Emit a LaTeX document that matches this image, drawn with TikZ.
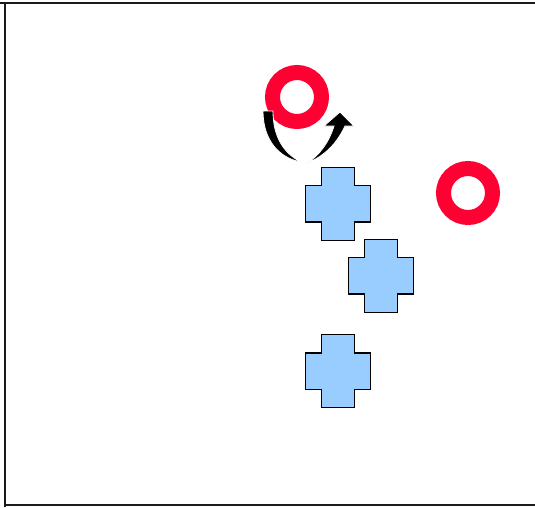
\documentclass[tikz,border=0pt]{standalone}
\usetikzlibrary{arrows.meta}
\definecolor{ringred}{HTML}{FF0033}
\definecolor{plusblue}{HTML}{99CCFF}
\definecolor{frameblk}{HTML}{1A1A1A}

\begin{document}
\begin{tikzpicture}[
  x=1pt, y=-1pt,
  ring/.style={draw=ringred, line width=15pt},
  plusbox/.pic={
    \draw[fill=plusblue, draw=black, line width=1.2pt]
      (-16.25,-36.5) -- (16.25,-36.5) -- (16.25,-18.25) -- (32.5,-18.25)
      -- (32.5,18.25) -- (16.25,18.25) -- (16.25,36.5) -- (-16.25,36.5)
      -- (-16.25,18.25) -- (-32.5,18.25) -- (-32.5,-18.25) -- (-16.25,-18.25) -- cycle;
  },
  turn/.style={fill=black, draw=white, line width=0.8pt, line join=miter},
]

% Canvas
\useasboundingbox (0,0) rectangle (535,507);

% Frame (top, left, bottom)
\draw[frameblk, line width=1.5pt] (0,3) -- (535,3);
\draw[frameblk, line width=1.5pt] (5,3) -- (5,507);
\draw[frameblk, line width=1.5pt] (5,505) -- (535,505);

% Rings
\draw[ring] (297,97) circle (24.5);
\draw[ring] (468,193) circle (24.5);

% Turn arrow below the upper ring
\filldraw[turn] (263,111) -- (273,111)
  .. controls (273,136) and (283,153) .. (301,162)
  .. controls (279,158) and (263,140) .. cycle;
\filldraw[turn] (307,163)
  .. controls (325,156) and (337,143) .. (345,126)
  -- (354,126) -- (340,112) -- (324,126) -- (334,126)
  .. controls (329,142) and (320,155) .. cycle;

% Plus shapes
\pic at (338,203.7) {plusbox};
\pic at (381,275.7) {plusbox};
\pic at (338,371.3) {plusbox};

\end{tikzpicture}
\end{document}
